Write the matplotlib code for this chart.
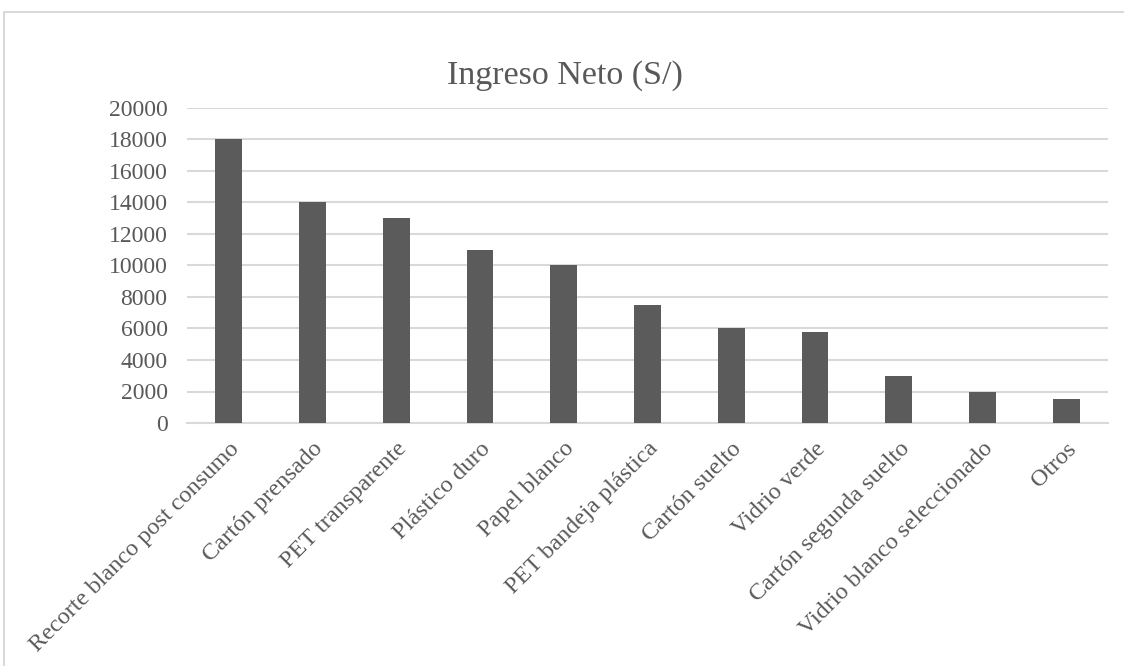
import matplotlib
matplotlib.use("Agg")
import matplotlib.pyplot as plt
from matplotlib.patches import Rectangle

categories = ["Recorte blanco post consumo", "Cartón prensado", "PET transparente",
              "Plástico duro", "Papel blanco", "PET bandeja plástica", "Cartón suelto",
              "Vidrio verde", "Cartón segunda suelto", "Vidrio blanco seleccionado", "Otros"]
values = [18000, 14000, 13000, 11000, 10000, 7500, 6000, 5800, 3000, 2000, 1500]
yticks = [0, 2000, 4000, 6000, 8000, 10000, 12000, 14000, 16000, 18000, 20000]

plt.rcParams['font.family'] = ['Liberation Serif', 'DejaVu Serif']
text_color = "#595959"
grid_color = "#d9d9d9"

fig = plt.figure(figsize=(11.24, 6.66), dpi=100)
fig.patch.set_facecolor("white")
fig.patches.append(Rectangle((4/1124, -0.1), 1.2, 1 - 12/666 + 0.1, transform=fig.transFigure,
                             fill=False, edgecolor=grid_color, linewidth=1.5, zorder=0))

ax = fig.add_axes([187/1124, 1 - 423/666, (1108 - 187)/1124, (423 - 108)/666])
x = range(len(categories))
ax.bar(x, values, width=0.32, color="#5b5b5b", zorder=3)
ax.set_xlim(-0.5, len(categories) - 0.5)
ax.set_ylim(0, 20000)
ax.set_yticks(yticks)
ax.set_yticklabels([str(v) for v in yticks], fontsize=17, color=text_color)
ax.set_xticks(list(x))
ax.set_xticklabels(categories, rotation=45, ha="right", rotation_mode="anchor",
                   fontsize=17.5, color=text_color)
ax.tick_params(axis="both", length=0)
ax.tick_params(axis="y", pad=14)
ax.tick_params(axis="x", pad=11)
ax.grid(axis="y", color=grid_color, linewidth=1.5, zorder=0)
for s in ["top", "right", "left"]:
    ax.spines[s].set_visible(False)
ax.spines["bottom"].set_color(grid_color)
ax.spines["bottom"].set_linewidth(1.5)

fig.text(565/1124, 1 - 76/666, "Ingreso Neto (S/)", ha="center", va="center",
         fontsize=24.5, color=text_color)

fig.savefig("out.png", dpi=100)
